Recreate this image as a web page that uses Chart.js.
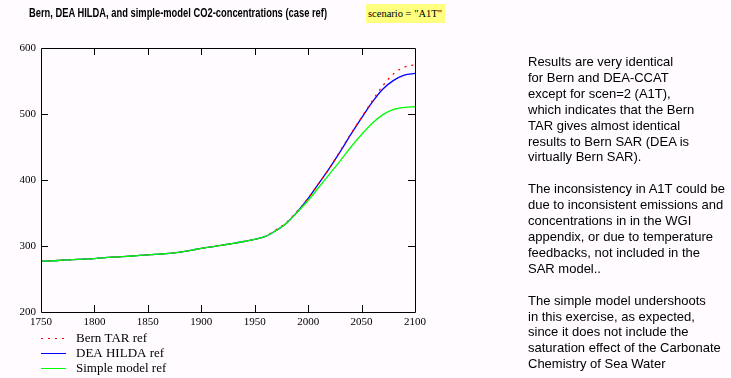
<!DOCTYPE html>
<html><head><meta charset="utf-8">
<script src="https://cdn.jsdelivr.net/npm/chart.js@4.4.1/dist/chart.umd.min.js"></script>
<style>
html,body{margin:0;padding:0;background:#fffbff;width:731px;height:378px;overflow:hidden;position:relative}
#c{position:absolute;left:0;top:0}
#title{position:absolute;left:29px;top:6px;font:bold 12px "Liberation Sans Narrow","Liberation Sans",Arial,sans-serif;white-space:nowrap;transform-origin:0 0;color:#000}
#scen{position:absolute;left:366px;top:4px;width:79px;height:19px;background:#ffff80;font:10.5px "Liberation Serif",serif;line-height:19px;color:#000;white-space:nowrap}
#scen span{margin-left:2px}
#note{position:absolute;left:528px;top:54px;font:13px "Liberation Sans",Arial,sans-serif;line-height:15.9px;color:#000;white-space:nowrap}
</style></head>
<body>
<canvas id="c" width="731" height="378"></canvas>
<div id="title">Bern, DEA HILDA, and simple-model CO2-concentrations (case ref)</div>
<div id="scen"><span>scenario = "A1T"</span></div>
<div id="note">Results are very identical<br>for Bern and DEA-CCAT<br>except for scen=2 (A1T),<br>which indicates that the Bern<br>TAR gives almost identical<br>results to Bern SAR (DEA is<br>virtually Bern SAR).<br><br>The inconsistency in A1T could be<br>due to inconsistent emissions and<br>concentrations in in the WGI<br>appendix, or due to temperature<br>feedbacks, not included in the<br>SAR model..<br><br>The simple model undershoots<br>in this exercise, as expected,<br>since it does not include the<br>saturation effect of the Carbonate<br>Chemistry of Sea Water</div>
<script>
// ---- data ----
const years = [1750,1760,1770,1780,1790,1800,1810,1820,1830,1840,1850,1860,1870,1880,1890,1900,1910,1920,1930,1940,1950,1960,1970,1980,1990,2000,2010,2020,2030,2040,2050,2060,2070,2080,2090,2100];
const simpleModel = [277,277.5,278.5,279.3,280,281,282.5,283.3,284.2,285.5,286.5,287.6,288.8,290.8,293.5,296.3,298.8,301.4,304,306.8,310,314.5,323.5,335,351.5,369,389,409,429,450,469,486,499,507,510,511];
const deaHilda = [277,277.5,278.5,279.3,280,281,282.5,283.3,284.2,285.5,286.5,287.6,288.8,290.8,293.5,296.3,298.8,301.4,304,306.8,310,314.5,323.5,335,352,372,395,418,443,469,494,518,538,551,559,561.5];
const bernTAR = [277,277.5,278.5,279.3,280,281,282.5,283.3,284.2,285.5,286.5,287.6,288.8,290.8,293.5,296.3,298.8,301.4,304,306.8,310,315,324.5,336,353,372.5,395,418,444,470,495,520,543,561,571,574.5];
const yTicks = [200,300,400,500,600];
const xTicks = [1750,1800,1850,1900,1950,2000,2050,2100];
const seriesNames = ['Bern TAR ref','DEA HILDA ref','Simple model ref'];

const pts = arr => years.map((y,i)=>({x:y,y:arr[i]}));

// fit title width
const t = document.getElementById('title');
const tw = t.getBoundingClientRect().width;
t.style.transform = 'scaleX(' + (298/tw) + ')';

const framePlugin = {
  id:'frame',
  afterDraw(chart){
    const {ctx, chartArea:a, scales:{x,y}} = chart;
    ctx.save();
    ctx.strokeStyle='#000';
    ctx.lineWidth=1;
    ctx.beginPath();
    ctx.rect(Math.round(a.left)+0.5, Math.round(a.top)+0.5, Math.round(a.right-a.left), Math.round(a.bottom-a.top));
    ctx.stroke();
    const L=7;
    ctx.beginPath();
    xTicks.slice(1,-1).forEach(v=>{
      const px=Math.round(x.getPixelForValue(v))+0.5;
      ctx.moveTo(px,a.bottom); ctx.lineTo(px,a.bottom-L);
      ctx.moveTo(px,a.top); ctx.lineTo(px,a.top+L);
    });
    yTicks.slice(1,-1).forEach(v=>{
      const py=Math.round(y.getPixelForValue(v))+0.5;
      ctx.moveTo(a.left,py); ctx.lineTo(a.left+L,py);
      ctx.moveTo(a.right,py); ctx.lineTo(a.right-L,py);
    });
    ctx.stroke();
    // legend
    const ds = [chart.data.datasets[1], chart.data.datasets[2], chart.data.datasets[0]];
    ctx.font='13px "Liberation Serif", serif';
    ctx.textBaseline='middle';
    ctx.fillStyle='#000';
    ds.forEach((d,i)=>{
      const yy = 338.5 + i*15;
      ctx.beginPath();
      ctx.strokeStyle=d.borderColor;
      ctx.lineWidth=1;
      ctx.setLineDash(d.borderDash||[]);
      ctx.moveTo(41,yy); ctx.lineTo(66,yy); ctx.stroke();
      ctx.setLineDash([]);
      ctx.fillText(d.label,76,yy);
    });
    ctx.restore();
  }
};

new Chart(document.getElementById('c'),{
  type:'line',
  data:{datasets:[
    {label:seriesNames[2],data:pts(simpleModel),borderColor:'#00ff00',borderWidth:1.3,pointRadius:0,cubicInterpolationMode:'monotone',order:0},
    {label:seriesNames[0],data:pts(bernTAR),borderColor:'#ff0000',borderWidth:1.3,borderDash:[2,5],pointRadius:0,cubicInterpolationMode:'monotone',order:1},
    {label:seriesNames[1],data:pts(deaHilda),borderColor:'#0000ff',borderWidth:1.3,pointRadius:0,cubicInterpolationMode:'monotone',order:2}
  ]},
  options:{
    responsive:false,animation:false,
    layout:{padding:{left:0,right:316,top:48,bottom:0}},
    plugins:{legend:{display:false},tooltip:{enabled:false}},
    scales:{
      x:{type:'linear',min:1750,max:2100,
        afterBuildTicks:s=>{s.ticks=xTicks.map(v=>({value:v}));},
        afterFit:s=>{s.height=66;},
        grid:{display:false,drawTicks:false},border:{display:false},
        ticks:{color:'#000',font:{family:'"Liberation Serif", serif',size:11},padding:4,maxRotation:0,autoSkip:false,callback:v=>String(v)}},
      y:{min:200,max:600,
        afterBuildTicks:s=>{s.ticks=yTicks.map(v=>({value:v}));},
        afterFit:s=>{s.width=41;},
        grid:{display:false,drawTicks:false},border:{display:false},
        ticks:{color:'#000',font:{family:'"Liberation Serif", serif',size:11},padding:5,callback:v=>String(v)}}
    }
  },
  plugins:[framePlugin]
});
</script>
</body></html>
